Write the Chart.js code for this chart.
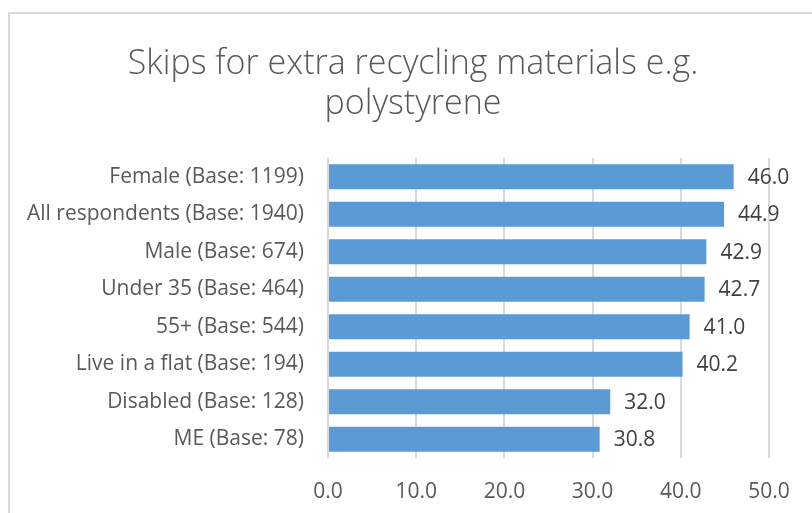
<!DOCTYPE html>
<html>
<head>
<meta charset="utf-8">
<script src="https://cdn.jsdelivr.net/npm/chart.js@4"></script>
<style>
  html, body { margin: 0; padding: 0; background: #fff; overflow: hidden; }
  #frame { position: absolute; left: 8px; top: 12px; width: 900px; height: 600px;
           border-left: 2px solid #D9D9D9; border-top: 2px solid #D9D9D9; }
  #wrap { position: absolute; left: 0; top: 0; width: 812px; height: 513px; }
</style>
</head>
<body>
<div id="frame"></div>
<div id="wrap"><canvas id="chart"></canvas></div>
<script>
const labels = [
  "Female (Base: 1199)",
  "All respondents (Base: 1940)",
  "Male (Base: 674)",
  "Under 35 (Base: 464)",
  "55+ (Base: 544)",
  "Live in a flat (Base: 194)",
  "Disabled (Base: 128)",
  "ME (Base: 78)"
];
const values = [46.0, 44.9, 42.9, 42.7, 41.0, 40.2, 32.0, 30.8];
const titleLines = ["Skips for extra recycling materials e.g.", "polystyrene"];

const FONT = "'Open Sans', sans-serif";

// title centred over the whole chart box (not only the plot area)
const chartTitle = {
  id: "chartTitle",
  afterDraw(chart) {
    const ctx = chart.ctx;
    ctx.save();
    ctx.font = "300 34px " + FONT;
    ctx.fillStyle = "#595959";
    ctx.textAlign = "center";
    ctx.textBaseline = "middle";
    titleLines.forEach((t, i) => ctx.fillText(t, 413, 64 + i * 40));
    ctx.restore();
  }
};

// value labels at the end of each bar
const valueLabels = {
  id: "valueLabels",
  afterDatasetsDraw(chart) {
    const ctx = chart.ctx;
    const meta = chart.getDatasetMeta(0);
    ctx.save();
    ctx.font = "21px " + FONT;
    ctx.fillStyle = "#404040";
    ctx.textAlign = "left";
    ctx.textBaseline = "middle";
    meta.data.forEach((bar, i) => {
      ctx.fillText(values[i].toFixed(1), bar.x + 14, bar.y + 1);
    });
    ctx.restore();
  }
};

new Chart(document.getElementById("chart"), {
  type: "bar",
  data: {
    labels: labels,
    datasets: [{
      data: values,
      backgroundColor: "#5B9BD5",
      categoryPercentage: 1,
      barPercentage: 0.667
    }]
  },
  plugins: [valueLabels, chartTitle],
  options: {
    indexAxis: "y",
    responsive: true,
    maintainAspectRatio: false,
    animation: false,
    layout: { padding: { top: 158, right: 43, bottom: 0, left: 0 } },
    plugins: {
      legend: { display: false },
      tooltip: { enabled: false },
      title: { display: false }
    },
    scales: {
      x: {
        min: 0,
        max: 50,
        ticks: {
          stepSize: 10,
          color: "#595959",
          padding: 21,
          font: { family: FONT, size: 21 },
          callback: v => v.toFixed(1)
        },
        grid: { color: "#D9D9D9", lineWidth: 2, drawTicks: false },
        border: { display: false },
        afterFit: s => { s.height = 55; }
      },
      y: {
        ticks: {
          color: "#595959",
          padding: 24,
          font: { family: FONT, size: 21 }
        },
        grid: { display: false, drawTicks: false },
        border: { display: false },
        afterFit: s => { s.width = 328; }
      }
    }
  }
});
</script>
</body>
</html>
